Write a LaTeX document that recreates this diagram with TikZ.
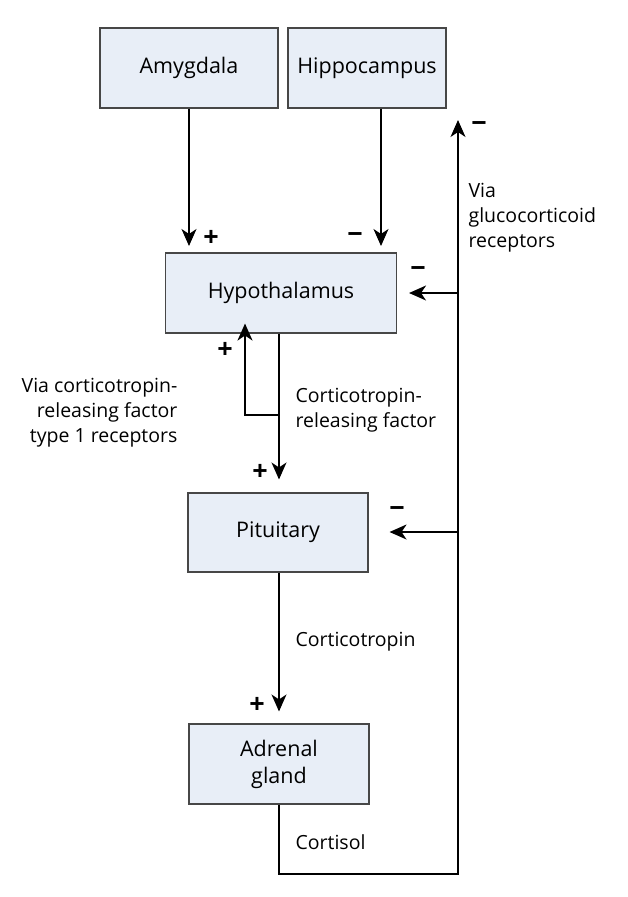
\documentclass[tikz,border=0pt]{standalone}
\usepackage{fontspec}
\setmainfont{Open Sans}
\usepackage{tikz}
\usetikzlibrary{
    positioning,
    arrows.meta
}
\definecolor{boxfill}{HTML}{E8EEF7}
\definecolor{boxline}{HTML}{474747}
\tikzset{
    >={Stealth[length=17pt,width=15pt,inset=5pt]},
    organ/.style={
        draw=boxline,
        fill=boxfill,
        line width=1.1pt,
        align=center,
        inner sep=0pt,
        font=\fontsize{21.5}{27}\selectfont
    },
    sign/.style={
        font=\fontsize{27}{27}\selectfont\bfseries,
        inner sep=0pt
    },
    note/.style={
        inner sep=0pt
    }
}

\begin{document}
\begin{tikzpicture}[
    x=1pt, y=-1pt,
    line width=1.2pt,
    font=\fontsize{19.5}{25}\selectfont
]
    \useasboundingbox (0,0) rectangle (627,897);

    % Regiones
    \node[organ, minimum width=178pt, minimum height=80pt] (amy) at (189,68)    {Amygdala};
    \node[organ, minimum width=158pt, minimum height=80pt] (hip) at (367,68)    {Hippocampus};
    \node[organ, minimum width=231pt, minimum height=80pt] (hyp) at (281,293)   {Hypothalamus};
    \node[organ, minimum width=180pt, minimum height=79pt] (pit) at (278,532.5) {Pituitary};
    \node[organ, minimum width=180pt, minimum height=80pt] (adr) at (279,764)   {Adrenal\\gland};

    % Puntos auxiliares
    \coordinate (amyin) at (189,246);
    \coordinate (hipin) at (381,246);
    \coordinate (crf)   at (279,415);
    \coordinate (crfl)  at (245,415);
    \coordinate (fbbot) at (458,874);
    \coordinate (fbtop) at (458,120);
    \coordinate (fbhyp) at (458,293);
    \coordinate (fbpit) at (458,532);

    % Entradas al hipotalamo
    \draw[->] (amy.south -| amyin) -- (amyin);
    \draw[->] (hip.south -| hipin) -- (hipin);

    % Eje principal
    \draw[->, shorten >=13pt] (crf |- hyp.south) -- (crf |- pit.north);
    \draw[->] (crf) -- (crfl) -- ([yshift=10pt]crfl |- hyp.south);
    \draw[->, shorten >=12pt] (crf |- pit.south) -- (crf |- adr.north);

    % Retroalimentacion
    \draw[->] (crf |- adr.south) -- (crf |- fbbot) -- (fbbot) -- (fbtop);
    \draw[->, shorten >=12pt] (fbhyp) -- (hyp.east);
    \draw[->, shorten >=21pt] (fbpit) -- (pit.east |- fbpit);

    % Signos
    \node[sign] at (211,238) {+};
    \node[sign] at (355,238) {−};
    \node[sign] at (418,272) {−};
    \node[sign] at (479,127) {−};
    \node[sign] at (397,512) {−};
    \node[sign] at (225,350) {+};
    \node[sign] at (260,472) {+};
    \node[sign] at (257,705) {+};

    % Etiquetas
    \node[note, anchor=north west, align=left]  at (468,183) {Via\\glucocorticoid\\receptors};
    \node[note, anchor=north east, align=right] at (178,378) {Via corticotropin-\\releasing factor\\type 1 receptors};
    \node[note, anchor=north west, align=left]  at (295,388) {Corticotropin-\\releasing factor};
    \node[note, anchor=west] at (295,642) {Corticotropin};
    \node[note, anchor=west] at (295,842) {Cortisol};

\end{tikzpicture}
\end{document}
